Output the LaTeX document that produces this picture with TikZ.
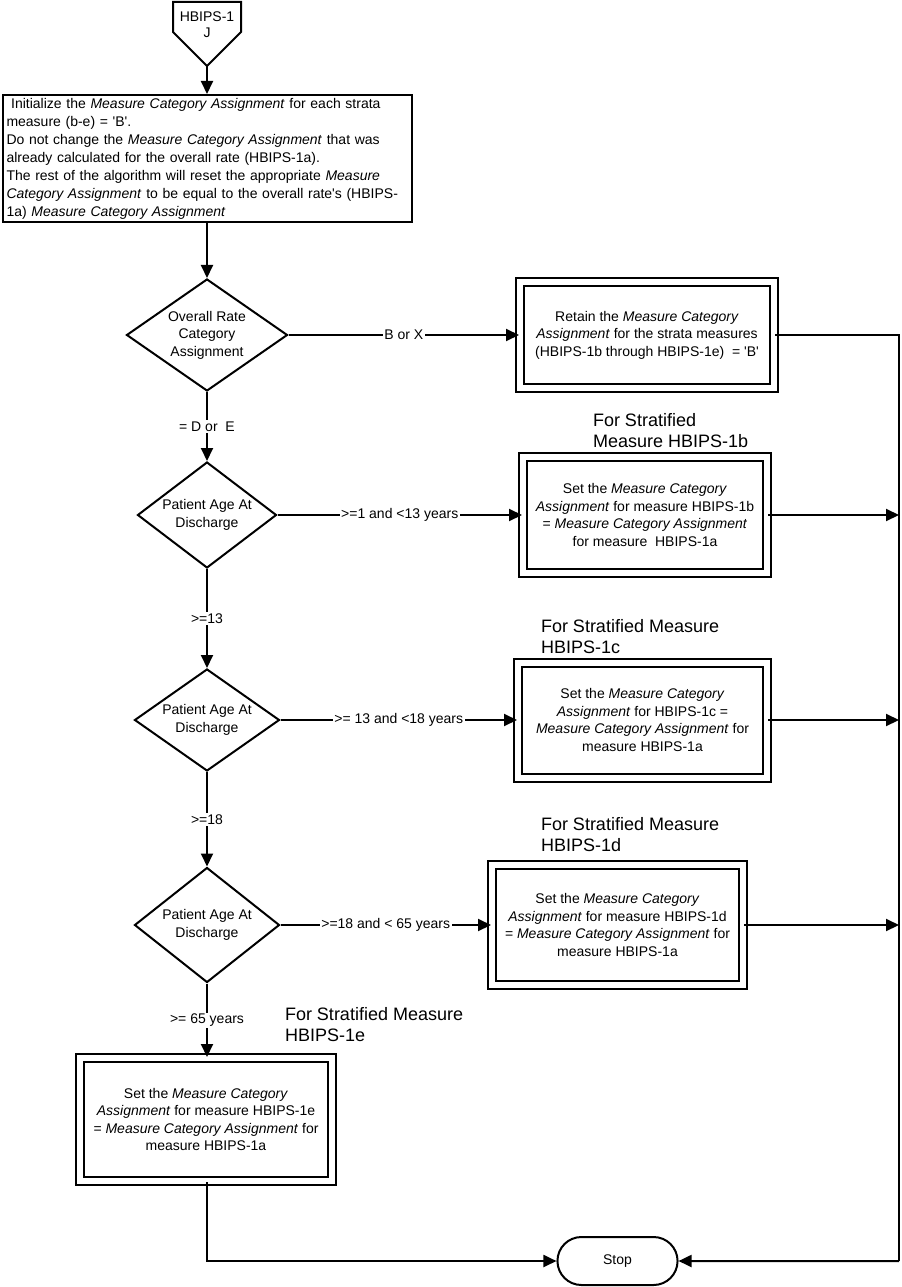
\documentclass[tikz,border=0pt]{standalone}
\usepackage{fontspec}
\newfontfamily\arial{Liberation Sans}
\usetikzlibrary{positioning}
\usetikzlibrary{arrows.meta}
\usetikzlibrary{shapes.geometric}
\usetikzlibrary{shapes.misc}
\usetikzlibrary{math}

\tikzset{
  every node/.style={font=\arial\fontsize{10.5}{13.1}\selectfont},
  arr/.style={-{Triangle[length=9.75pt,width=9pt]}},
  decision/.style={diamond, draw, align=center, inner sep=0pt},
  process/.style={rectangle, draw, double, double distance=4.5pt, align=center, inner sep=2pt},
  header/.style={anchor=south west, inner sep=0pt, align=left, font=\arial\fontsize{13.5}{15.75}\selectfont},
  lbl/.style={fill=white, inner sep=1pt},
  terminal/.style={rounded rectangle, draw, minimum width=96.75pt, minimum height=36pt},
}

\begin{document}
\begin{tikzpicture}[x=0.75pt,y=-0.75pt,line width=1.5pt]

  \tikzmath{
    \railx = 899;  % x of the collecting line on the right
    \stopy = 1261; % height of the stop terminal
  }

  \useasboundingbox (0,0) rectangle (901,1287);

  % off-page connector
  \draw (173,2) -- (241,2) -- (241,32) -- (207,66) -- (173,32) -- cycle;
  \node[align=center, font=\arial\fontsize{10.5}{12}\selectfont] (Jtext) at (207,25) {HBIPS-1\\J};
  \coordinate (J) at (207,65);

  % initialization
  \node[draw, align=left, text width=300.75pt, inner xsep=3pt, inner ysep=1pt,
        minimum height=95.25pt, font=\arial\fontsize{10.5}{13.5}\selectfont] (init) at (207,158.5)
  {~Initialize the \textit{Measure Category Assignment} for each strata\\
   measure (b-e) = \textquotesingle B\textquotesingle.\\
   Do not change the \textit{Measure Category Assignment} that was\\
   already calculated for the overall rate (HBIPS-1a).\\
   The rest of the algorithm will reset the appropriate \textit{Measure}\\
   \textit{Category Assignment} to be equal to the overall rate\textquotesingle s (HBIPS-\\
   1a) \textit{Measure Category Assignment}};

  % decisions
  \node[decision, aspect=1.44, minimum width=120.75pt, minimum height=84pt] (d1) at (207,335)
  {Overall Rate\\Category\\Assignment};
  \node[decision, aspect=1.31, minimum width=104.25pt, minimum height=79.5pt] (d2) at (207,515)
  {Patient Age At\\Discharge};
  \node[decision, aspect=1.42, minimum width=108.75pt, minimum height=76.5pt] (d3) at (207,720)
  {Patient Age At\\Discharge};
  \node[decision, aspect=1.26, minimum width=108.75pt, minimum height=86.25pt] (d4) at (207,925)
  {Patient Age At\\Discharge};

  % strata assignments
  \node[process, minimum width=190.5pt, minimum height=78.75pt] (retain) at (647,335)
  {Retain the \textit{Measure Category}\\
   \textit{Assignment} for the strata measures\\
   (HBIPS-1b through HBIPS-1e)\ \ = \textquotesingle B\textquotesingle};
  \node[process, minimum width=183pt, minimum height=87pt] (b1) at (645,515)
  {Set the \textit{Measure Category}\\
   \textit{Assignment} for measure HBIPS-1b\\
   = \textit{Measure Category Assignment}\\
   for measure\ \ HBIPS-1a};
  \node[process, minimum width=186.75pt, minimum height=86.25pt] (c1) at (642.5,720)
  {Set the \textit{Measure Category}\\
   \textit{Assignment} for HBIPS-1c =\\
   \textit{Measure Category Assignment} for\\
   measure HBIPS-1a};
  \node[process, minimum width=188.25pt, minimum height=90pt] (dd1) at (617.5,925)
  {Set the \textit{Measure Category}\\
   \textit{Assignment} for measure HBIPS-1d\\
   = \textit{Measure Category Assignment} for\\
   measure HBIPS-1a};
  \node[process, minimum width=189pt, minimum height=92.25pt] (e1) at (206,1119.5)
  {Set the \textit{Measure Category}\\
   \textit{Assignment} for measure HBIPS-1e\\
   = \textit{Measure Category Assignment} for\\
   measure HBIPS-1a};

  % headers above the strata boxes
  \node[header] (h1b) at (592,449) {For Stratified\\Measure HBIPS-1b};
  \node[header] (h1c) at (540,655) {For Stratified Measure\\HBIPS-1c};
  \node[header] (h1d) at (540,853) {For Stratified Measure\\HBIPS-1d};
  \node[header] (h1e) at (284,1043) {For Stratified Measure\\HBIPS-1e};

  % end
  \node[terminal] (stop) at (617.5,\stopy) {Stop};
  \coordinate (rail) at (\railx,335);
  \coordinate (railend) at (\railx,\stopy);

  % main flow
  \draw[arr] (J) -- (init);
  \draw[arr] (init) -- (d1);
  \draw[arr] (d1) -- node[lbl] {B or X} (retain);
  \draw[arr] (d1) -- node[lbl] {= D or \ E} (d2);
  \draw[arr] (d2) -- node[lbl] {>=1 and <13 years} (b1);
  \draw[arr] (d2) -- node[lbl] {>=13} (d3);
  \draw[arr] (d3) -- node[lbl] {>= 13 and <18 years} (c1);
  \draw[arr] (d3) -- node[lbl] {>=18} (d4);
  \draw[arr] (d4) -- node[lbl] {>=18 and < 65 years} (dd1);
  \draw[arr] (d4) -- node[lbl] {>= 65 years} (d4 |- e1.north);

  % collecting lines to stop
  \draw (retain) -- (rail) -- (railend);
  \draw[arr] (b1) -- (b1 -| rail);
  \draw[arr] (c1) -- (c1 -| rail);
  \draw[arr] (dd1) -- (dd1 -| rail);
  \draw[arr] (railend) -- (stop);
  \draw[arr] (e1.south -| d4) |- (stop);

\end{tikzpicture}
\end{document}
